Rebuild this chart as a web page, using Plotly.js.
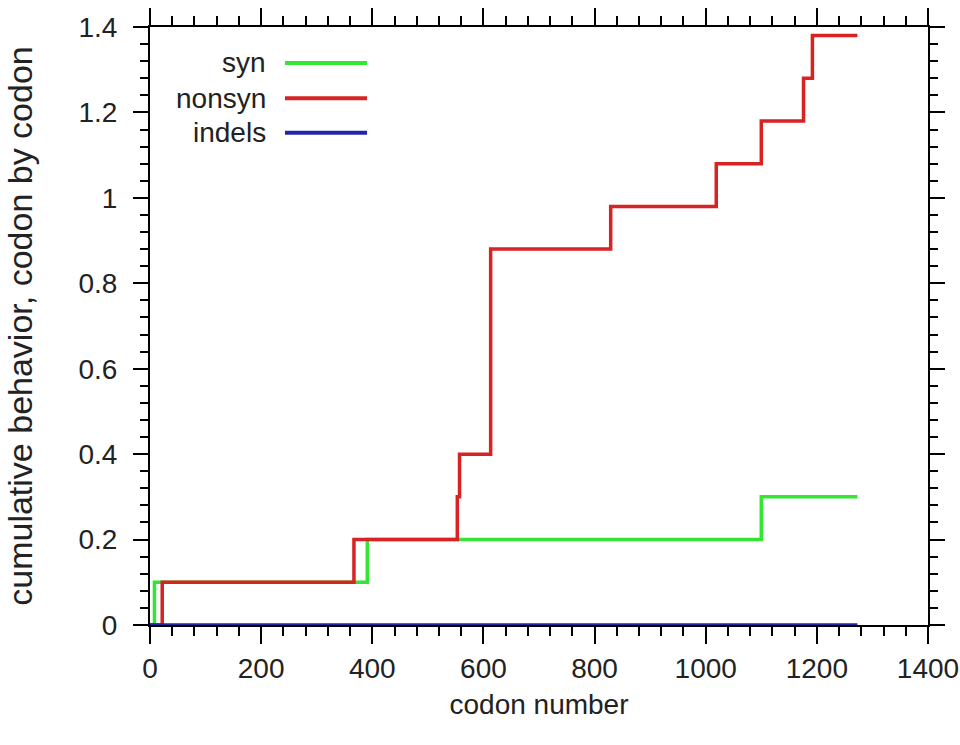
<!DOCTYPE html>
<html>
<head>
<meta charset="utf-8">
<script src="https://cdn.plot.ly/plotly-3.0.1.min.js"></script>
<style>
  html, body { margin: 0; padding: 0; background: #fff; }
  #chart { width: 960px; height: 745px; }
</style>
</head>
<body>
<div id="chart"></div>
<script>
// step points (codon number, cumulative value)
var synX = [0, 8, 391, 1100, 1273];
var synY = [0, 0.1, 0.2, 0.3, 0.3];

var nonsynX = [0, 22, 367, 553, 557, 613, 829, 1019, 1100, 1176, 1192, 1273];
var nonsynY = [0, 0.1, 0.2, 0.3, 0.4, 0.88, 0.98, 1.08, 1.18, 1.28, 1.38, 1.38];

var indelsX = [0, 1273];
var indelsY = [0, 0];

var names = ["syn", "nonsyn", "indels"];
var colors = ["rgb(50,230,50)", "rgb(215,35,35)", "rgb(35,35,170)"];

var xs = [synX, nonsynX, indelsX];
var ys = [synY, nonsynY, indelsY];

var traces = [];
for (var i = 0; i < names.length; i++) {
  traces.push({
    type: 'scatter',
    mode: 'lines',
    name: names[i],
    x: xs[i],
    y: ys[i],
    line: { shape: 'hv', color: colors[i], width: 3.5 },
    showlegend: false
  });
}

// legend drawn by hand: text on the left, sample line on the right
var annotations = [];
var shapes = [];
var legY = [0.940, 0.881, 0.823];
for (var j = 0; j < names.length; j++) {
  annotations.push({
    xref: 'paper', yref: 'paper',
    x: 0.152, y: legY[j],
    xanchor: 'right', yanchor: 'middle',
    text: names[j],
    showarrow: false,
    font: { family: 'Liberation Sans, Arial, sans-serif', size: 28, color: '#222' }
  });
  shapes.push({
    type: 'line', xref: 'paper', yref: 'paper',
    x0: 0.1735, x1: 0.279, y0: legY[j], y1: legY[j],
    line: { color: colors[j], width: 4 }
  });
}

var tickFont = { family: 'Liberation Sans, Arial, sans-serif', size: 28, color: '#222' };

var layout = {
  width: 960,
  height: 745,
  margin: { l: 150, r: 32, t: 27, b: 120 },
  paper_bgcolor: '#fff',
  plot_bgcolor: '#fff',
  showlegend: false,
  font: { family: 'Liberation Sans, Arial, sans-serif', color: '#222' },
  xaxis: {
    range: [0, 1400],
    dtick: 200,
    tick0: 0,
    showgrid: false,
    zeroline: false,
    showline: true,
    linecolor: '#000',
    linewidth: 2,
    mirror: 'allticks',
    ticks: 'outside',
    ticklen: 17,
    tickwidth: 2,
    tickcolor: '#000',
    ticklabelstandoff: 0,
    minor: { dtick: 40, ticks: 'outside', ticklen: 9, tickwidth: 2, tickcolor: '#000', showgrid: false },
    tickfont: tickFont,
    layer: 'below traces',
    title: { text: 'codon number', font: { size: 28, color: '#222' }, standoff: 12 }
  },
  yaxis: {
    range: [0, 1.4],
    dtick: 0.2,
    tick0: 0,
    showgrid: false,
    zeroline: false,
    showline: true,
    linecolor: '#000',
    linewidth: 2,
    mirror: 'allticks',
    ticks: 'outside',
    ticklen: 15,
    tickwidth: 2,
    tickcolor: '#000',
    ticklabelstandoff: 10,
    minor: { dtick: 0.04, ticks: 'outside', ticklen: 8, tickwidth: 2, tickcolor: '#000', showgrid: false },
    tickfont: tickFont,
    layer: 'below traces',
    title: { text: 'cumulative behavior, codon by codon', font: { size: 34, color: '#222' }, standoff: 36 }
  },
  annotations: annotations,
  shapes: shapes
};

Plotly.newPlot('chart', traces, layout, { displayModeBar: false, staticPlot: true });
</script>
</body>
</html>
